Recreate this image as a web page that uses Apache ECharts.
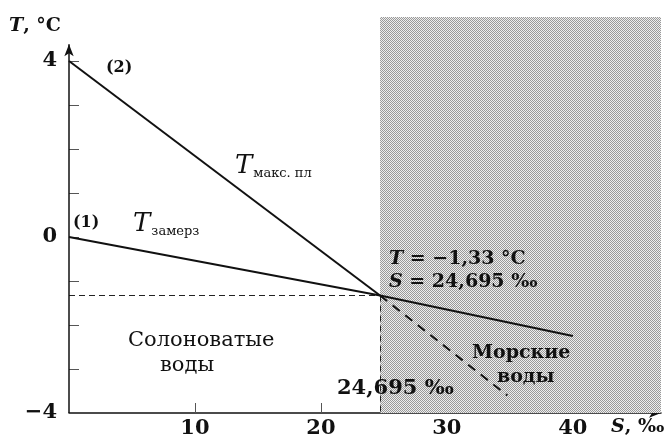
<!DOCTYPE html>
<html><head><meta charset="utf-8">
<script src="https://cdn.jsdelivr.net/npm/echarts@6/dist/echarts.min.js"></script>
<style>html,body{margin:0;padding:0;background:#fff}#c{width:672px;height:439px}</style>
</head><body><div id="c"></div>
<script>
// data
const xTicks = [10, 20, 30, 40];
const yTicks = [-3, -2, -1, 0, 1, 2, 3, 4];
const yLabels = [-4, 0, 4];
const sCross = 24.695;
const tCross = -1.33;
const tMaxSolid = [[0, 4], [24.695, -1.33]];
const tMaxDashed = [[24.695, -1.33], [34.8, -3.6]];
const tFreeze = [[0, 0], [24.695, -1.33], [40, -2.25]];
const seaRange = [24.695, 47];

const chart = echarts.init(document.getElementById('c'));
const pc = document.createElement('canvas');
pc.width = 2; pc.height = 2;
const g = pc.getContext('2d');
g.fillStyle = '#eeeeee'; g.fillRect(0, 0, 2, 2);
g.fillStyle = '#999999'; g.fillRect(0, 0, 1, 1); g.fillRect(1, 1, 1, 1);

const F = '"DejaVu Serif", "Liberation Serif", serif';
const txt = (x, y, text, size, weight) => ({
  type: 'text', left: x, top: y, z: 100,
  style: { text: text, font: (weight || 'bold') + ' ' + size + 'px ' + F, fill: '#111' }
});

chart.setOption({
  animation: false,
  grid: { left: 69, right: 11, top: 17, bottom: 26 },
  xAxis: {
    type: 'value', min: 0, max: 47, interval: 10,
    axisLine: { show: true, onZero: false, symbol: ['none', 'arrow'], symbolSize: [7, 12], lineStyle: { color: '#111', width: 1.5 } },
    axisTick: { show: true, inside: true, length: 10, customValues: xTicks, lineStyle: { color: '#555' } },
    axisLabel: { customValues: xTicks, fontFamily: F, fontWeight: 'bold', fontSize: 21, color: '#111', margin: 5 },
    splitLine: { show: false }
  },
  yAxis: {
    type: 'value', min: -4, max: 5, interval: 1,
    axisLine: { show: false },
    axisTick: { show: true, inside: true, length: 10, customValues: yTicks, lineStyle: { color: '#555' } },
    axisLabel: { customValues: yLabels, fontFamily: F, fontWeight: 'bold', fontSize: 21, color: '#111', margin: 12,
      formatter: v => v < 0 ? '\u2212' + Math.abs(v) : String(v) },
    splitLine: { show: false }
  },
  series: [
    {
      type: 'line', data: tMaxSolid, symbol: 'none', lineStyle: { color: '#111', width: 2 }, z: 5,
      markArea: { silent: true, itemStyle: { color: { image: pc, repeat: 'repeat' } },
        data: [[{ coord: [seaRange[0], -4] }, { coord: [seaRange[1], 5] }]] },
      markLine: { silent: true, symbol: ['none', 'none'], label: { show: false },
        lineStyle: { color: '#222', width: 1, type: [6, 4] },
        data: [
          [{ coord: [0, tCross] }, { coord: [sCross, tCross] }],
          [{ coord: [sCross, tCross] }, { coord: [sCross, -4] }]
        ] }
    },
    { type: 'line', data: tMaxDashed, symbol: 'none', lineStyle: { color: '#111', width: 2, type: [9, 7] }, z: 5 },
    { type: 'line', data: tFreeze, symbol: 'none', lineStyle: { color: '#111', width: 2 }, z: 5,
      markLine: { silent: true, symbol: ['none', 'arrow'], symbolSize: [7, 12], label: { show: false },
        lineStyle: { color: '#111', width: 1.5, type: 'solid' },
        data: [[{ coord: [0, -4] }, { coord: [0, 4.38] }]] } }
  ],
  graphic: [
    { type: 'text', left: 9, top: 17, z: 100, style: { text: '{i|T}{n|, °C}', rich: {
      i: { font: 'italic bold 19px ' + F, fill: '#111' }, n: { font: 'bold 19px ' + F, fill: '#111' } } } },
    txt(106, 60, '(2)', 16),
    txt(73, 215, '(1)', 16),
    { type: 'text', left: 235, top: 153, z: 100, style: { text: '{i|T}{s|макс. пл}', rich: {
      i: { font: 'italic 26px ' + F, fill: '#111' }, s: { font: '13px ' + F, fill: '#111', padding: [16, 0, 0, 1] } } } },
    { type: 'text', left: 133, top: 211, z: 100, style: { text: '{i|T}{s|замерз}', rich: {
      i: { font: 'italic 26px ' + F, fill: '#111' }, s: { font: '13px ' + F, fill: '#111', padding: [16, 0, 0, 1] } } } },
    { type: 'text', left: 389, top: 250, z: 100, style: { text: '{i|T} = \u22121,33 °C', font: 'bold 19px ' + F, fill: '#111', rich: {
      i: { font: 'italic bold 19px ' + F, fill: '#111' } } } },
    { type: 'text', left: 389, top: 273, z: 100, style: { text: '{i|S} = 24,695 ‰', font: 'bold 19px ' + F, fill: '#111', rich: {
      i: { font: 'italic bold 19px ' + F, fill: '#111' } } } },
    txt(128, 330, 'Солоноватые', 21, 'normal'),
    txt(160, 355, 'воды', 21, 'normal'),
    txt(472, 344, 'Морские', 19),
    txt(497, 368, 'воды', 19),
    txt(337, 378, '24,695 ‰', 21),
    { type: 'text', left: 611, top: 418, z: 100, style: { text: '{i|S}, ‰', font: 'bold 19px ' + F, fill: '#111', rich: {
      i: { font: 'italic bold 19px ' + F, fill: '#111' } } } }
  ]
});
</script></body></html>
